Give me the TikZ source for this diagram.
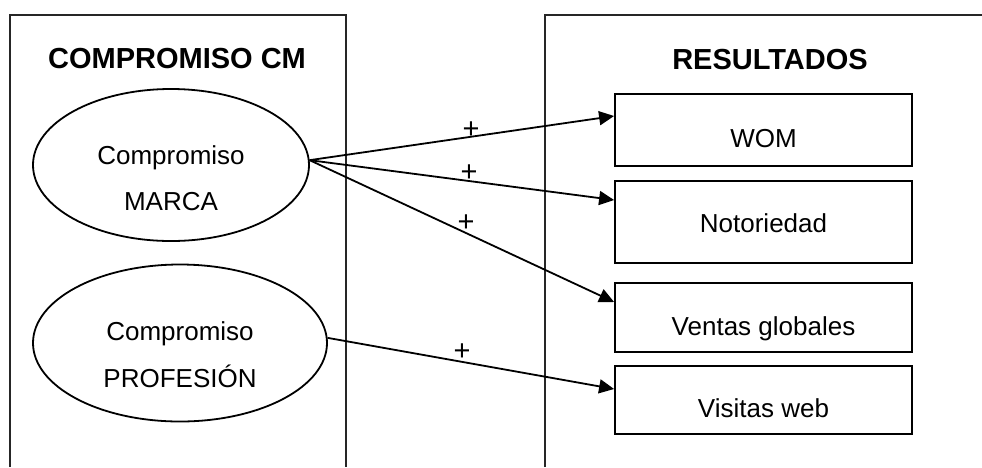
\documentclass[tikz,border=0pt]{standalone}
\usepackage{fontspec}
\setmainfont{Liberation Sans}
\usetikzlibrary{shapes.geometric,arrows.meta}
\begin{document}
\begin{tikzpicture}[x=1pt,y=-1pt,
  panel/.style={draw=black!85,line width=1.1pt},
  oval/.style={ellipse,draw,line width=1.8pt,inner sep=0pt},
  resbox/.style={rectangle,draw,line width=1.8pt,inner sep=0pt,minimum width=297pt},
  ttl/.style={anchor=base,font=\fontsize{29}{33}\selectfont\bfseries},
  txt/.style={anchor=base,font=\fontsize{26}{30}\selectfont},
  sgn/.style={font=\fontsize{29}{33}\selectfont,inner sep=0pt},
  arr/.style={line width=1.8pt,-{Triangle[length=15pt,width=14pt]}}]
\useasboundingbox (0,0) rectangle (982,467);
% panels
\coordinate (lbl) at (10,467);
\coordinate (ltl) at (10,15);
\coordinate (ltr) at (346,15);
\coordinate (lbr) at (346,467);
\coordinate (rbl) at (545,467);
\coordinate (rtl) at (545,15);
\coordinate (rtr) at (982,15);
\draw[panel] (lbl) -- (ltl) -- (ltr) -- (lbr);
\draw[panel] (rbl) -- (rtl) -- (rtr);
% titles
\node[ttl] (t1) at (177,68) {COMPROMISO CM};
\node[ttl] (t2) at (770,69) {RESULTADOS};
% ellipses
\node[oval,minimum width=276pt,minimum height=152pt] (e1) at (171,165) {};
\node[txt] (e1a) at (171,164) {Compromiso};
\node[txt] (e1b) at (171,210) {MARCA};
\node[oval,minimum width=294pt,minimum height=157pt] (e2) at (180,343) {};
\node[txt] (e2a) at (180,340) {Compromiso};
\node[txt] (e2b) at (180,387) {PROFESIÓN};
% boxes
\node[resbox,minimum height=72pt] (b1) at (763.5,130) {};
\node[txt] (b1t) at (763.5,147) {WOM};
\node[resbox,minimum height=82pt] (b2) at (763.5,222) {};
\node[txt] (b2t) at (763.5,232) {Notoriedad};
\node[resbox,minimum height=69pt] (b3) at (763.5,317.5) {};
\node[txt] (b3t) at (763.5,335) {Ventas globales};
\node[resbox,minimum height=68pt] (b4) at (763.5,400) {};
\node[txt] (b4t) at (763.5,417) {Visitas web};
% arrows
\draw[arr] (e1.2.5) -- (b1.west |- 0,116);
\draw[arr] (e1.2.5) -- (b2.west |- 0,200);
\draw[arr] (e1.2.5) -- (b3.west |- 0,302);
\draw[arr] (e2.2.3) -- (b4.west |- 0,389);
% signs
\node[sgn] (p1) at (471,130) {+};
\node[sgn] (p2) at (469,173) {+};
\node[sgn] (p3) at (466,223) {+};
\node[sgn] (p4) at (462,352) {+};
\end{tikzpicture}
\end{document}
